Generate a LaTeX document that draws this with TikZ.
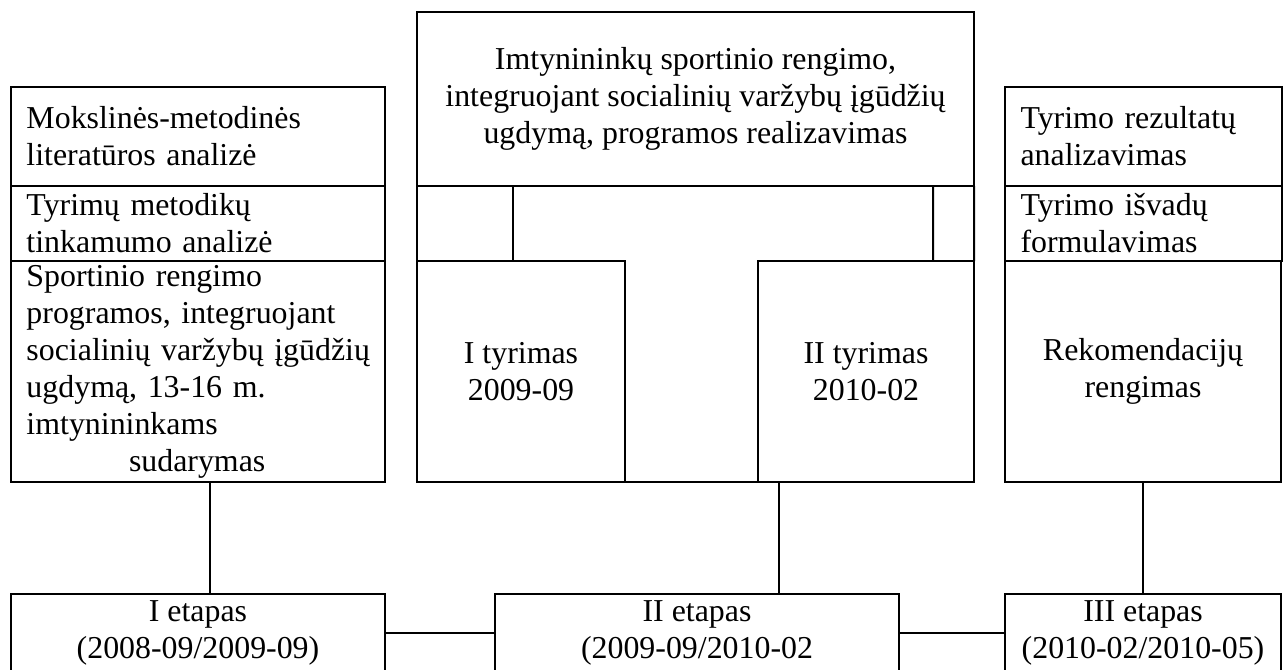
\documentclass[tikz,border=0pt]{standalone}
\usepackage{fontspec}
\setmainfont{Liberation Serif}
\usetikzlibrary{calc}

\tikzset{
  blok/.style={draw,line width=0.8pt,anchor=north west,inner sep=0pt,outer sep=0pt,
    font=\fontsize{12.75}{14.8}\selectfont},
  kaire/.style={blok,align=left,inner xsep=6.2pt,text width=#1},
  centras/.style={blok,align=center},
  linija/.style={line width=0.8pt}
}

\begin{document}
\begin{tikzpicture}[x=0.4pt,y=-0.4pt]
  \useasboundingbox (0,0) rectangle (1285,669);
  \clip (0,0) rectangle (1285,669);
  % I etapo darbai
  \node[kaire=137.2pt,minimum width=149.6pt,minimum height=39.6pt] (lit) at (11,87)
  {Mokslinės-metodinės\\literatūros analizė};
  \node[kaire=137.2pt,minimum width=149.6pt,minimum height=30pt] (met) at (lit.south west)
  {Tyrimų metodikų\\tinkamumo analizė};
  \node[kaire=137.2pt,minimum width=149.6pt,minimum height=88.4pt] (prog) at (met.south west)
  {Sportinio rengimo\\\mbox{programos, integruojant}\\\mbox{socialinių varžybų įgūdžių}\\ugdymą, 13-16 m.\\imtynininkams\\\hspace*{41pt}sudarymas};
  % II etapo darbai
  \node[centras,minimum width=222.8pt,minimum height=69.6pt] (real) at (417,12)
  {Imtynininkų sportinio rengimo,\\integruojant socialinių varžybų įgūdžių\\ugdymą, programos realizavimas};
  \node[centras,minimum width=83.2pt,minimum height=88.4pt] (tyr1) at (417,261)
  {I tyrimas\\2009-09};
  \node[centras,anchor=north east,minimum width=86.4pt,minimum height=88.4pt] (tyr2) at (974,261)
  {II tyrimas\\2010-02};
  \draw[linija] (real.south west) -- (tyr1.north west);
  \draw[linija] (real.south east) -- (tyr2.north east);
  \draw[linija] (tyr1.south east) -- (tyr2.south west);
  \draw[linija] ([xshift=38.4pt]real.south west) -- ([xshift=38.4pt]tyr1.north west);
  \draw[linija] ([xshift=-16.4pt]real.south east) -- ([xshift=-16.4pt]tyr2.north east);
  % III etapo darbai
  \node[kaire=98.4pt,minimum width=110.4pt,minimum height=39.6pt] (rez) at (1005,87)
  {Tyrimo rezultatų\\analizavimas};
  \node[kaire=98.4pt,minimum width=110.4pt,minimum height=30pt] (isv) at (rez.south west)
  {Tyrimo išvadų\\formulavimas};
  \node[centras,minimum width=110.4pt,minimum height=88.4pt] (rek) at (isv.south west)
  {Rekomendacijų\\rengimas};
  % etapai
  \node[centras,minimum width=149.6pt,minimum height=31.2pt] (et1) at (11,594)
  {I etapas\\(2008-09/2009-09)};
  \node[centras,minimum width=161.6pt,minimum height=31.2pt] (et2) at (495,594)
  {II etapas\\(2009-09/2010-02};
  \node[centras,minimum width=110.4pt,minimum height=31.2pt] (et3) at (1005,594)
  {III etapas\\(2010-02/2010-05)};
  \draw[linija] ([xshift=4.8pt]prog.south) -- ([xshift=4.8pt]et1.north);
  \draw[linija] ([xshift=8.4pt]tyr2.south west) coordinate (m) -- (m |- et2.north);
  \draw[linija] (rek.south) -- (et3.north);
  \draw[linija] (et1.east) -- (et2.west);
  \draw[linija] (et2.east) -- (et3.west);
\end{tikzpicture}
\end{document}
